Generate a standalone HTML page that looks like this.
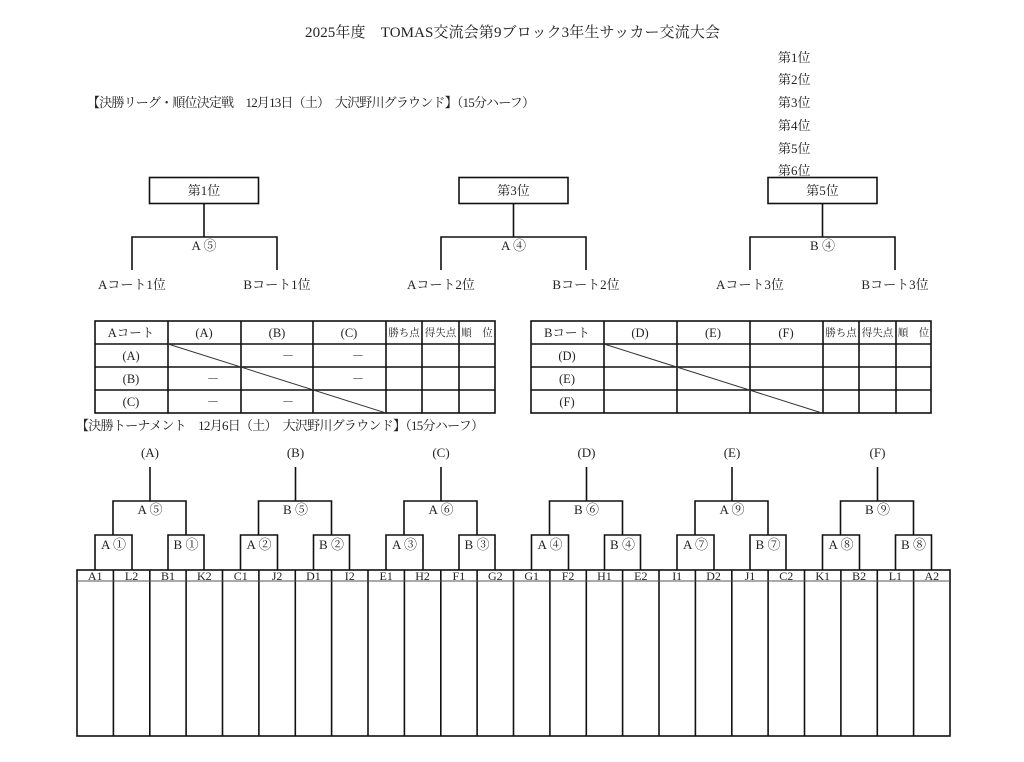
<!DOCTYPE html>
<html><head><meta charset="utf-8"><style>
html,body{margin:0;padding:0;background:#fff;}
svg{display:block;font-family:"Liberation Serif","Noto Serif CJK JP","Noto Serif CJK SC",serif;}
text{fill:#222;}
</style></head><body>
<svg width="1024" height="762" viewBox="0 0 1024 762" xmlns="http://www.w3.org/2000/svg">
<g font-size="15"><text x="305" y="37" textLength="415">2025年度　TOMAS交流会第9ブロック3年生サッカー交流大会</text></g>
<g font-size="13">
<text x="778" y="62">第1位</text>
<text x="778" y="84">第2位</text>
<text x="778" y="107">第3位</text>
<text x="778" y="130">第4位</text>
<text x="778" y="153">第5位</text>
<text x="778" y="175">第6位</text>
<text x="87" y="107" textLength="448">【決勝リーグ・順位決定戦　12月13日（土）　大沢野川グラウンド】（15分ハーフ）</text>
<text x="76" y="430" textLength="408">【決勝トーナメント　12月6日（土）　大沢野川グラウンド】（15分ハーフ）</text>
</g>
<!-- top brackets -->
<g fill="none" stroke="#111" stroke-width="1.6">
<rect x="149.5" y="177.5" width="109" height="26"/>
<rect x="459" y="177.5" width="109" height="26"/>
<rect x="768" y="177.5" width="109" height="26"/>
<path d="M204 204 V237 M132 270 V237 H277 V270"/>
<path d="M513.5 204 V237 M441 270 V237 H586 V270"/>
<path d="M822.5 204 V237 M750 270 V237 H895 V270"/>
</g>
<g font-size="13" text-anchor="middle">
<text x="204" y="195">第1位</text><text x="513.5" y="195">第3位</text><text x="822.5" y="195">第5位</text>
<text x="204" y="250" fill="#555">A ⑤</text><text x="513.5" y="250" fill="#555">A ④</text><text x="822.5" y="250" fill="#555">B ④</text>
<text x="132" y="289">Aコート1位</text><text x="277" y="289">Bコート1位</text>
<text x="441" y="289">Aコート2位</text><text x="586" y="289">Bコート2位</text>
<text x="750" y="289">Aコート3位</text><text x="895" y="289">Bコート3位</text>
</g>
<!-- tables -->
<g fill="none" stroke="#111" stroke-width="1.6">
<rect x="95" y="321" width="400" height="92"/>
<path d="M95 344 H495 M95 367 H495 M95 390 H495 M168 321 V413 M241 321 V413 M313 321 V413 M386 321 V413 M422 321 V413 M459 321 V413"/>
<rect x="531" y="321" width="400" height="92"/>
<path d="M531 344 H931 M531 367 H931 M531 390 H931 M604 321 V413 M677 321 V413 M750 321 V413 M823 321 V413 M859 321 V413 M896 321 V413"/>
</g>
<g stroke="#333" stroke-width="1">
<line x1="168" y1="344" x2="386" y2="413"/>
<line x1="604" y1="344" x2="822" y2="413"/>
</g>
<g font-size="12.5" text-anchor="middle">
<text x="131" y="337">Aコート</text><text x="204" y="337">(A)</text><text x="277" y="337">(B)</text><text x="349" y="337">(C)</text>
<text x="131" y="360">(A)</text><text x="131" y="383">(B)</text><text x="131" y="406">(C)</text>
<text x="567" y="337">Bコート</text><text x="640" y="337">(D)</text><text x="713" y="337">(E)</text><text x="786" y="337">(F)</text>
<text x="567" y="360">(D)</text><text x="567" y="383">(E)</text><text x="567" y="406">(F)</text>
<text x="288" y="360">－</text><text x="358" y="360">－</text>
<text x="213" y="383">－</text><text x="358" y="383">－</text>
<text x="213" y="406">－</text><text x="288" y="406">－</text>
</g>
<g font-size="10.5" text-anchor="middle">
<text x="404" y="336">勝ち点</text><text x="440.5" y="336">得失点</text><text x="477" y="336">順　位</text>
<text x="841" y="336">勝ち点</text><text x="877.5" y="336">得失点</text><text x="913.5" y="336">順　位</text>
</g>
<!-- tournament -->
<g fill="none" stroke="#111" stroke-width="1.6">
<path d="M95 570 V535 H132 V570 M168 570 V535 H204 V570 M113 535 V501 H186 V535 M150 501 V467"/>
<path d="M240.5 570 V535 H277.5 V570 M313.5 570 V535 H349.5 V570 M258.5 535 V501 H331.5 V535 M295.5 501 V467"/>
<path d="M386 570 V535 H423 V570 M459 570 V535 H495 V570 M404 535 V501 H477 V535 M441 501 V467"/>
<path d="M531.5 570 V535 H568.5 V570 M604.5 570 V535 H640.5 V570 M549.5 535 V501 H622.5 V535 M586.5 501 V467"/>
<path d="M677 570 V535 H714 V570 M750 570 V535 H786 V570 M695 535 V501 H768 V535 M732 501 V467"/>
<path d="M822.5 570 V535 H859.5 V570 M895.5 570 V535 H931.5 V570 M840.5 535 V501 H913.5 V535 M877.5 501 V467"/>
<rect x="77" y="570" width="873" height="166"/>
<path d="M113.4 570V736 M149.8 570V736 M186.1 570V736 M222.5 570V736 M258.9 570V736 M295.3 570V736 M331.6 570V736 M368 570V736 M404.4 570V736 M440.8 570V736 M477.1 570V736 M513.5 570V736 M549.9 570V736 M586.3 570V736 M622.6 570V736 M659 570V736 M695.4 570V736 M731.8 570V736 M768.1 570V736 M804.5 570V736 M840.9 570V736 M877.3 570V736 M913.6 570V736"/>
</g>
<line x1="77" y1="581" x2="950" y2="581" stroke="#555" stroke-width="1"/>
<g font-size="13" text-anchor="middle">
<text x="150" y="457">(A)</text><text x="295.5" y="457">(B)</text><text x="441" y="457">(C)</text>
<text x="586.5" y="457">(D)</text><text x="732" y="457">(E)</text><text x="877.5" y="457">(F)</text>
<text x="150" y="514">A ⑤</text><text x="295.5" y="514">B ⑤</text><text x="441" y="514">A ⑥</text>
<text x="586.5" y="514">B ⑥</text><text x="732" y="514">A ⑨</text><text x="877.5" y="514">B ⑨</text>
<text x="113.5" y="549">A ①</text><text x="186" y="549">B ①</text>
<text x="259" y="549">A ②</text><text x="331.5" y="549">B ②</text>
<text x="404.5" y="549">A ③</text><text x="477" y="549">B ③</text>
<text x="550" y="549">A ④</text><text x="622.5" y="549">B ④</text>
<text x="695.5" y="549">A ⑦</text><text x="768" y="549">B ⑦</text>
<text x="841" y="549">A ⑧</text><text x="913.5" y="549">B ⑧</text>
</g>
<g font-size="12" text-anchor="middle" fill="#555">
<text x="95.2" y="580">A1</text><text x="131.6" y="580">L2</text><text x="168" y="580">B1</text><text x="204.3" y="580">K2</text>
<text x="240.7" y="580">C1</text><text x="277.1" y="580">J2</text><text x="313.4" y="580">D1</text><text x="349.8" y="580">I2</text>
<text x="386.2" y="580">E1</text><text x="422.6" y="580">H2</text><text x="458.9" y="580">F1</text><text x="495.3" y="580">G2</text>
<text x="531.7" y="580">G1</text><text x="568.1" y="580">F2</text><text x="604.4" y="580">H1</text><text x="640.8" y="580">E2</text>
<text x="677.2" y="580">I1</text><text x="713.6" y="580">D2</text><text x="749.9" y="580">J1</text><text x="786.3" y="580">C2</text>
<text x="822.7" y="580">K1</text><text x="859.1" y="580">B2</text><text x="895.4" y="580">L1</text><text x="931.8" y="580">A2</text>
</g>
</svg>
</body></html>
